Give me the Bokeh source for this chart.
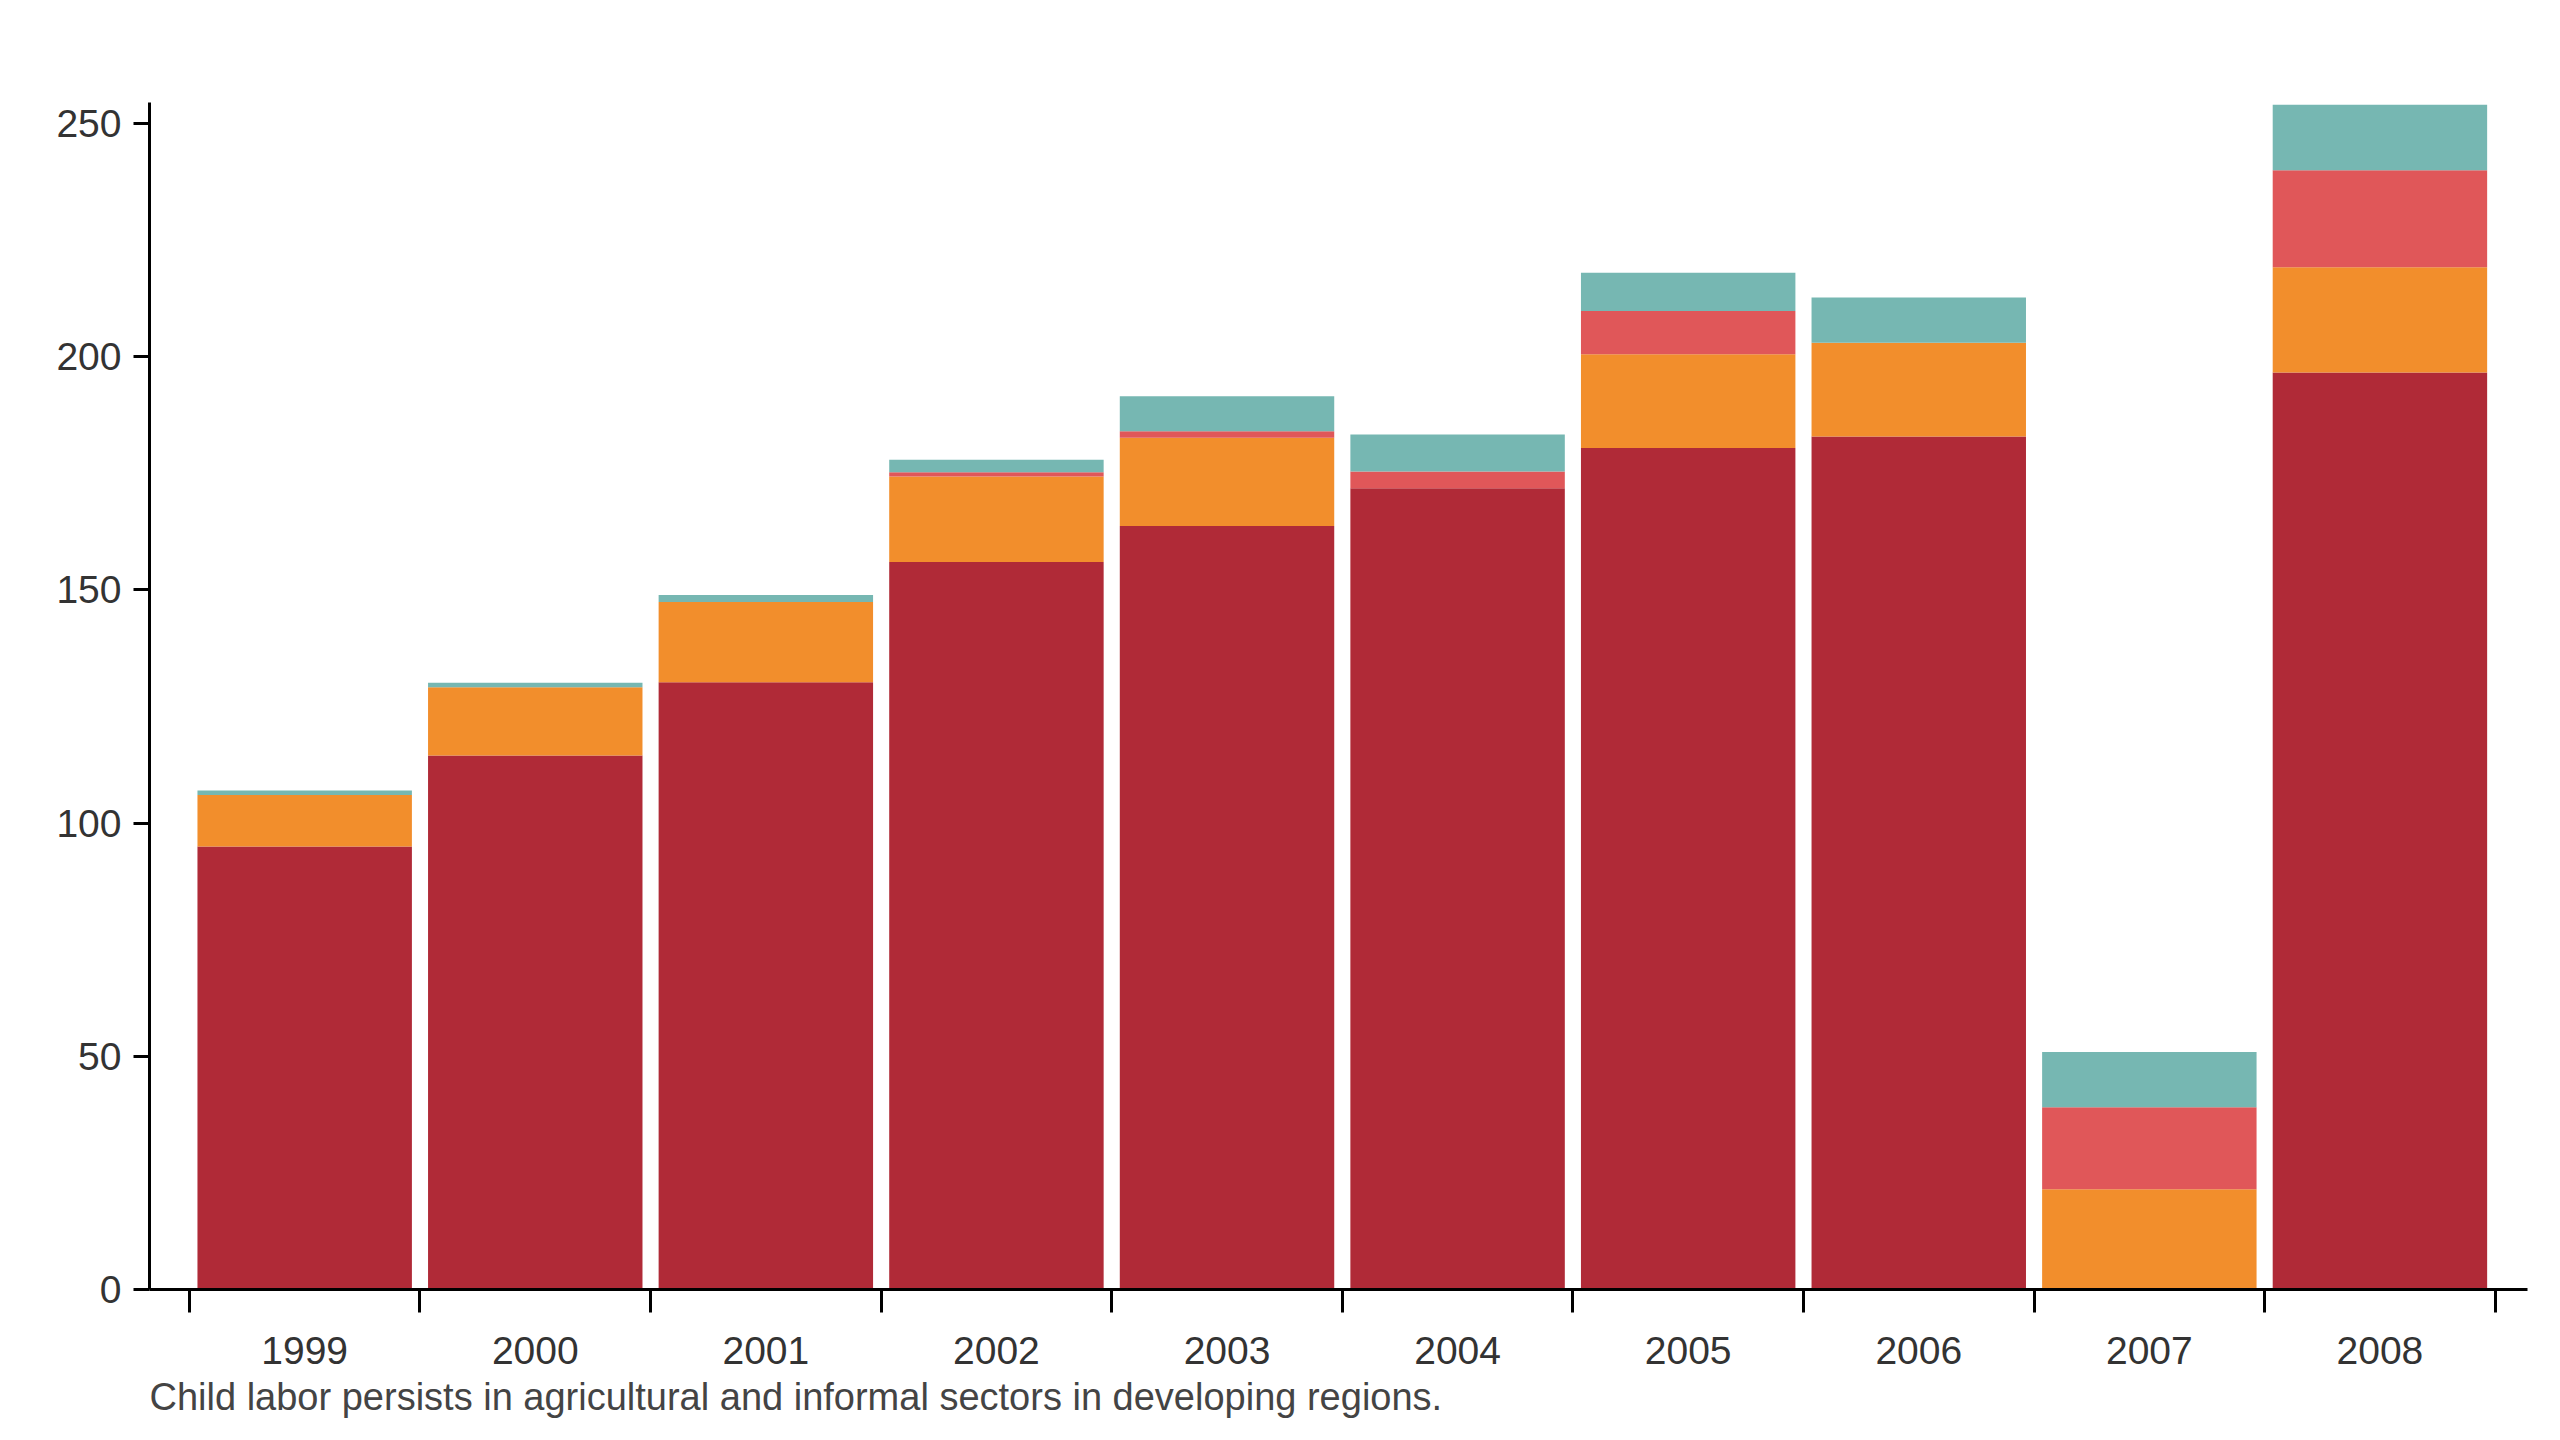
from bokeh.plotting import figure
from bokeh.models import ColumnDataSource, Legend, LegendItem, LinearAxis, FixedTicker, Range1d, Title
from bokeh.embed import file_html
from bokeh.resources import INLINE

years = ["1999","2000","2001","2002","2003","2004","2005","2006","2007","2008"]
USA = [95, 114.5, 130.2, 156, 163.7, 171.8, 180.4, 182.9, 0, 196.6]
ZAF = [11, 14.6, 17.2, 18.3, 18.9, 0, 20.1, 20.1, 21.5, 22.6]
NGA = [0, 0, 0, 0.9, 1.4, 3.6, 9.3, 0, 17.6, 20.8]
KEN = [1, 1, 1.5, 2.7, 7.5, 7.9, 8.2, 9.7, 11.8, 14]
series = ["USA", "ZAF", "NGA", "KEN"]
colors = ["#b02a37", "#f28e2c", "#e05759", "#76b7b2"]

xs = list(range(1, len(years) + 1))
data = {"x": xs, "USA": USA, "ZAF": ZAF, "NGA": NGA, "KEN": KEN}
src = ColumnDataSource(data)

p = figure(width=2544, height=1424, output_backend="svg", toolbar_location=None,
           x_range=Range1d(0.327, 10.64), y_range=Range1d(0, 254.5),
           min_border_left=149, min_border_right=17, min_border_top=102, min_border_bottom=40,
           x_axis_location=None, y_axis_location=None)
p.outline_line_color = None
p.grid.visible = False
p.background_fill_color = "white"

rs = p.vbar_stack(series, x="x", width=0.93, source=src, color=colors, line_color=None)

yax = LinearAxis(ticker=FixedTicker(ticks=[0, 50, 100, 150, 200, 250]))
yax.axis_line_width = 3
yax.major_tick_line_width = 3
yax.major_tick_out = 16
yax.major_tick_in = 0
yax.major_label_standoff = 12
yax.minor_tick_line_color = None
yax.major_label_text_font = "Liberation Sans"
yax.major_label_text_font_size = "39px"
yax.major_label_text_color = "#333333"
p.add_layout(yax, "left")

xax = LinearAxis(ticker=FixedTicker(ticks=[i + 0.5 for i in range(0, 11)]))
xax.axis_line_width = 3
xax.major_tick_line_width = 3
xax.major_tick_out = 23
xax.major_tick_in = 0
xax.minor_tick_line_color = None
xax.major_label_text_font_size = "0px"
xax.major_label_standoff = 0
xax.major_label_overrides = {i + 0.5: "" for i in range(0, 11)}
p.add_layout(xax, "below")

lax = LinearAxis(ticker=FixedTicker(ticks=xs))
lax.major_label_overrides = {x: y for x, y in zip(xs, years)}
lax.axis_line_color = None
lax.major_tick_line_color = None
lax.minor_tick_line_color = None
lax.major_label_text_font = "Liberation Sans"
lax.major_label_text_font_size = "39px"
lax.major_label_text_color = "#333333"
lax.major_label_standoff = 18
p.add_layout(lax, "below")

cap = Title(text="Child labor persists in agricultural and informal sectors in developing regions.",
            text_font="Liberation Sans", text_font_size="38px", text_color="#444444",
            text_font_style="normal", offset=0, standoff=14)
p.add_layout(cap, "below")

legend = Legend(items=[LegendItem(label=s, renderers=[r]) for s, r in zip(series, rs)],
                orientation="horizontal", location=(712, 1250),
                label_text_font="Liberation Sans", label_text_font_size="42px",
                label_text_color="#222222", glyph_width=36, glyph_height=36,
                spacing=51, label_standoff=49, border_line_color=None,
                background_fill_alpha=0, padding=2, margin=0)
p.add_layout(legend, "center")

open("out.html", "w").write(file_html(p, INLINE))
